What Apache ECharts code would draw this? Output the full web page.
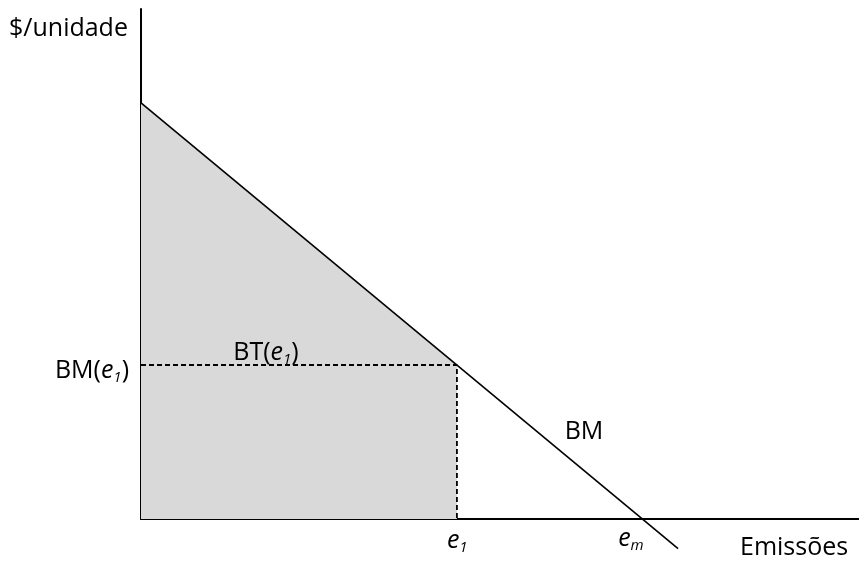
<!DOCTYPE html>
<html>
<head>
<meta charset="utf-8">
<script src="https://cdn.jsdelivr.net/npm/echarts@6/dist/echarts.min.js"></script>
<style>html,body{margin:0;padding:0;background:#fff}#c{width:859px;height:566px}</style>
</head>
<body>
<div id="c"></div>
<script>
// Data (axis units 0..100)
const bmLine = [[0, 81.6], [74.8, -5.8]];   // marginal benefit line BM
const e1 = 44.0;                             // emission level e1
const bmE1 = 30.2;                           // BM(e1)
const em = 69.8;                             // e_m (BM = 0)
const areaPts = [[0, 81.6], [e1, bmE1]];     // BT(e1) region upper edge
const dashPts = [[0, bmE1], [e1, bmE1], [e1, 0]];

const chart = echarts.init(document.getElementById('c'), null, {renderer: 'canvas'});
const FF = '"Open Sans", "Noto Sans", sans-serif';
const FS = 25;
const rich = {
  n: {fontFamily: FF, fontSize: FS, color: '#000', lineHeight: 30, verticalAlign: 'middle'},
  i: {fontFamily: FF, fontSize: FS, fontStyle: 'italic', color: '#000', lineHeight: 30, verticalAlign: 'middle'},
  s: {fontFamily: FF, fontSize: 15, fontStyle: 'italic', color: '#000', lineHeight: 30, verticalAlign: 'bottom', padding: [0, 0, 1, 0]}
};
chart.setOption({
  animation: false,
  grid: {left: 141, right: 0, top: 9, bottom: 47},
  xAxis: {type: 'value', min: 0, max: 100, axisLine: {show: true, lineStyle: {color: '#000', width: 2}},
          axisTick: {show: false}, axisLabel: {show: false}, splitLine: {show: false}},
  yAxis: {type: 'value', min: 0, max: 100, axisLine: {show: true, lineStyle: {color: '#000', width: 2}},
          axisTick: {show: false}, axisLabel: {show: false}, splitLine: {show: false}},
  series: [
    {type: 'line', data: areaPts, showSymbol: false, lineStyle: {width: 0}, areaStyle: {color: '#d9d9d9', opacity: 1}, z: 1},
    {type: 'line', data: dashPts, showSymbol: false, lineStyle: {color: '#000', width: 1.8, type: [5, 3]}, z: 2},
    {type: 'line', data: bmLine, showSymbol: false, clip: false, lineStyle: {color: '#000', width: 1.6}, z: 3}
  ]
});
const p = (x, y) => chart.convertToPixel({gridIndex: 0}, [x, y]);
const pe1 = p(e1, 0), pem = p(em, 0), pb = p(0, bmE1);
const T = (x, y, style) => ({type: 'text', x: x, y: y, z: 100, zlevel: 1, style: Object.assign({fill: '#000', verticalAlign: 'middle'}, style)});
chart.setOption({
  graphic: [
    T(9, 29, {text: '$/unidade', font: FS + 'px ' + FF}),
    T(pb[0] - 12, pb[1] + 6, {text: '{n|BM(}{i|e}{s|1}{n|)}', rich: rich, align: 'right'}),
    T(266, pb[1] - 12, {text: '{n|BT(}{i|e}{s|1}{n|)}', rich: rich, align: 'center'}),
    T(584, 432, {text: 'BM', font: FS + 'px ' + FF, align: 'center'}),
    T(pe1[0] - 10, pe1[1] + 22, {text: '{i|e}{s|1}', rich: rich, align: 'left'}),
    T(pem[0] - 24, pem[1] + 20, {text: '{i|e}{s|m}', rich: rich, align: 'left'}),
    T(740, 548, {text: 'Emissões', font: FS + 'px ' + FF})
  ]
});
</script>
</body>
</html>
